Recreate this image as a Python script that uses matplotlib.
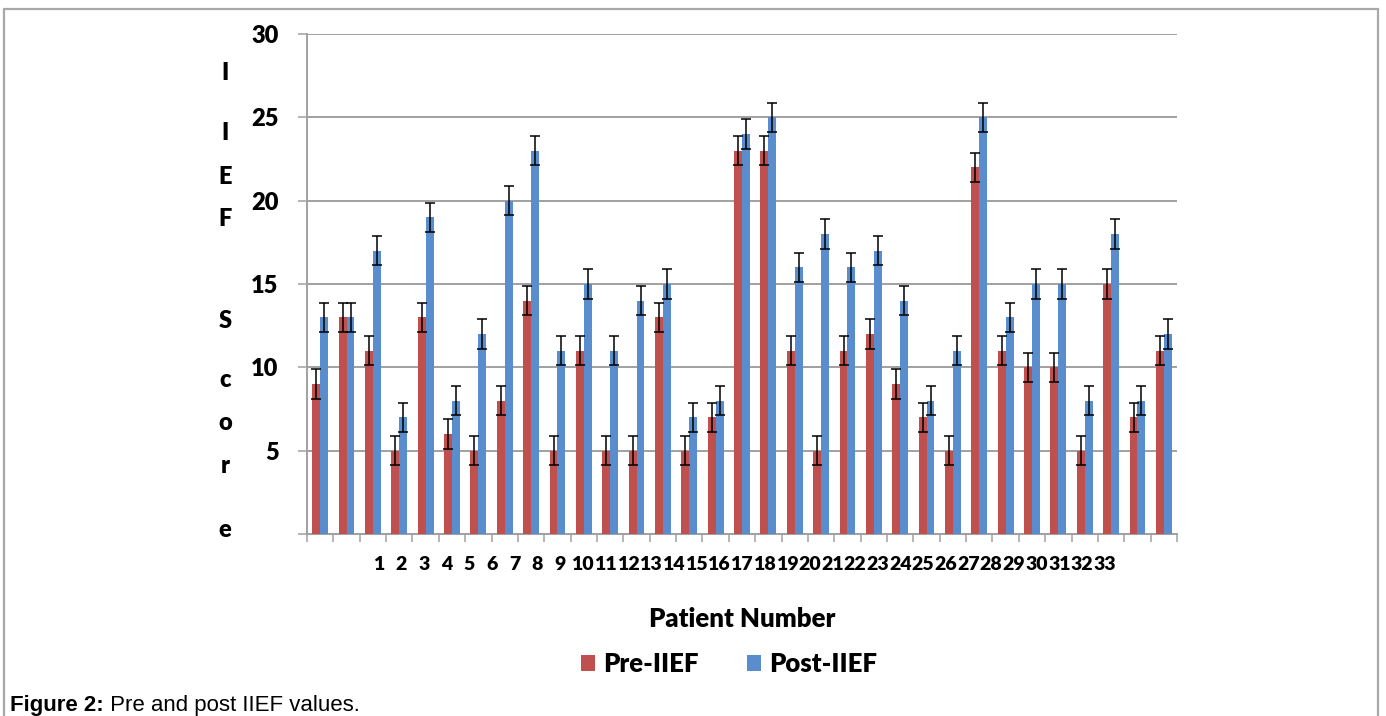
import matplotlib
matplotlib.use("Agg")
import matplotlib.pyplot as plt
from matplotlib.patches import Patch, Rectangle
import numpy as np

# ---- data ----
patients = list(range(1, 34))
pre_iief = [9, 13, 11, 5, 13, 6, 5, 8, 14, 5, 11, 5, 5, 13, 5, 7, 23, 23, 11, 5,
            11, 12, 9, 7, 5, 22, 11, 10, 10, 5, 15, 7, 11]
post_iief = [13, 13, 17, 7, 19, 8, 12, 20, 23, 11, 15, 11, 14, 15, 7, 8, 24, 25, 16, 18,
             16, 17, 14, 8, 11, 25, 13, 15, 15, 8, 18, 8, 12]
err = 0.88
yticks = [0, 5, 10, 15, 20, 25, 30]
ytick_labels = ["", "5", "10", "15", "20", "25", "30"]
xtick_labels = [str(p) for p in patients]
ylabel_chars = ["I", "I", "E", "F", "S", "c", "o", "r", "e"]

PRE_C = "#C0504D"
POST_C = "#5A8DCD"
GRID_C = "#A0A0A0"
FONT = "Lato"
WT = "heavy"

W, H = 1386, 716
fig = plt.figure(figsize=(W / 100, H / 100), dpi=100)
fig.patch.set_facecolor("white")

def px(x, y):
    return x / W, 1 - y / H

ax_l, ax_r, ax_t, ax_b = 307, 1177, 34, 534
ax = fig.add_axes([ax_l / W, 1 - ax_b / H, (ax_r - ax_l) / W, (ax_b - ax_t) / H])

n = len(patients)
x = np.arange(n)
bw = 0.30
ax.bar(x - bw / 2, pre_iief, bw, color=PRE_C, zorder=3,
       yerr=err, error_kw=dict(ecolor="black", elinewidth=1.1, capsize=3.8, capthick=1.1, zorder=4))
ax.bar(x + bw / 2, post_iief, bw, color=POST_C, zorder=3,
       yerr=err, error_kw=dict(ecolor="black", elinewidth=1.1, capsize=3.8, capthick=1.1, zorder=4))

ax.set_xlim(-0.5, n - 0.5)
ax.set_ylim(0, 30)

# gridlines
ax.set_yticks(yticks)
ax.set_yticklabels(ytick_labels, fontsize=17, fontweight=WT, family=FONT)
ax.yaxis.grid(True, color=GRID_C, linewidth=1.4, zorder=0)
ax.tick_params(axis="y", length=6.5, width=1.1, color=GRID_C, pad=14)

# category boundary ticks (minor) and shifted labels (major, no tick line)
ax.set_xticks(np.arange(-0.5, n, 1.0), minor=True)
lab_start = (378.3 - ax_l) / ((ax_r - ax_l) / n) - 0.5
lab_step = 22.7 / ((ax_r - ax_l) / n)
ax.set_xticks([lab_start + i * lab_step for i in range(n)])
ax.set_xticklabels(xtick_labels, fontsize=14, fontweight=WT, family=FONT)
ax.tick_params(axis="x", which="major", length=0, pad=16)
ax.tick_params(axis="x", which="minor", length=5.5, width=1.1, color=GRID_C)

for s in ["top", "right"]:
    ax.spines[s].set_visible(False)
for s in ["left", "bottom"]:
    ax.spines[s].set_color(GRID_C)
    ax.spines[s].set_linewidth(1.4)

# stacked y-axis title
ylabel_y = [73, 133, 177, 219, 321, 380, 423, 466, 530]
for ch, yy in zip(ylabel_chars, ylabel_y):
    fig.text(*px(225, yy), ch, ha="center", va="center", fontsize=17,
             fontweight=WT, family=FONT)

# x-axis title
fig.text(*px(742, 619), "Patient Number", ha="center", va="center",
         fontsize=18.5, fontweight=WT, family=FONT)

# legend
handles = [Patch(facecolor=PRE_C, edgecolor="none", label="Pre-IIEF"),
           Patch(facecolor=POST_C, edgecolor="none", label="Post-IIEF")]
leg = fig.legend(handles=handles, loc="center", bbox_to_anchor=px(729, 664), ncol=2,
                 frameon=False, handlelength=0.55, handleheight=0.55, handletextpad=0.3,
                 columnspacing=1.9, prop=dict(family=FONT, weight=WT, size=18.5))

# outer frame
frame = Rectangle((4 / W, -0.05), (1378 - 4) / W, 1 - 9 / H + 0.05, transform=fig.transFigure,
                  fill=False, edgecolor="#A8A8A8", linewidth=1.6)
fig.patches.append(frame)

# caption
t1 = fig.text(*px(10, 705), "Figure 2:", ha="left", va="center", fontsize=16,
              fontweight="bold", family="Liberation Sans")
fig.canvas.draw()
bb = t1.get_window_extent(renderer=fig.canvas.get_renderer())
fig.text(bb.x1 / W, 1 - 705 / H, " Pre and post IIEF values.", ha="left", va="center",
         fontsize=16, family="Liberation Sans")

fig.savefig("out.png", dpi=100, facecolor="white")
